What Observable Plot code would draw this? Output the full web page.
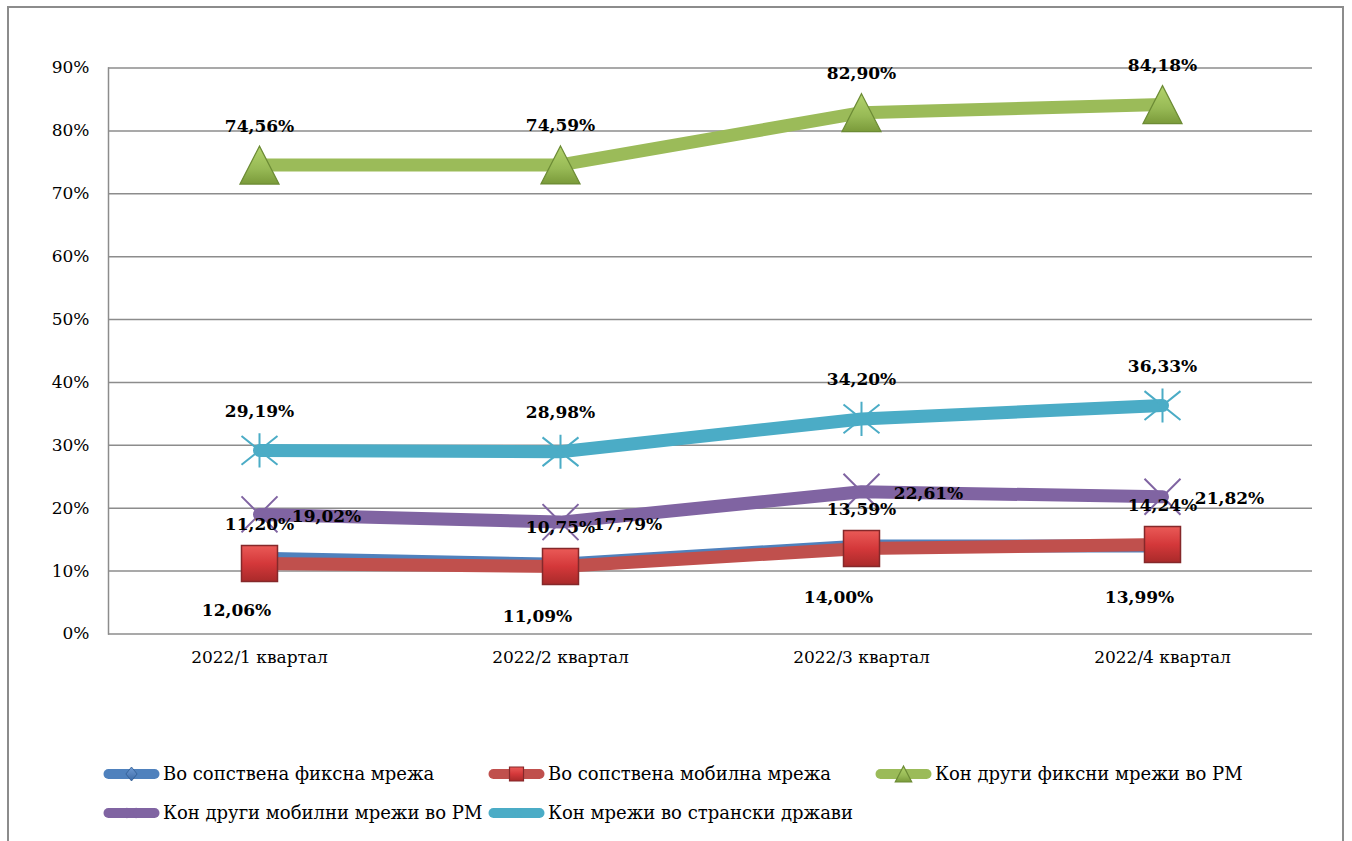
<!DOCTYPE html>
<html>
<head>
<meta charset="utf-8">
<script src="https://cdn.jsdelivr.net/npm/d3@7"></script>
<script src="https://cdn.jsdelivr.net/npm/@observablehq/plot@0.6"></script>
<style>
  html, body { margin: 0; padding: 0; background: #fff; }
  body { width: 1352px; height: 841px; position: relative; overflow: hidden; font-family: "DejaVu Serif", serif; }
  #border { position: absolute; left: 7px; top: 6px; width: 1337px; height: 860px; border: 2px solid #8c8c8c; box-sizing: border-box; }
  #chart { position: absolute; left: 0; top: 0; }
  #legend { position: absolute; left: 103px; top: 754px; display: grid; grid-template-columns: 385px 387px auto; font-size: 18px; color: #000; font-family: "DejaVu Serif", serif; }
  .item { display: flex; align-items: center; height: 39px; white-space: nowrap; }
  .item svg { margin-right: 3px; flex-shrink: 0; }
</style>
</head>
<body>
<svg width="0" height="0" style="position:absolute">
  <defs>
    <linearGradient id="gRed" x1="0" y1="0" x2="0" y2="1">
      <stop offset="0" stop-color="#ea5a57"/>
      <stop offset="0.5" stop-color="#d4383a"/>
      <stop offset="1" stop-color="#a92a2a"/>
    </linearGradient>
    <linearGradient id="gGreen" x1="0" y1="0" x2="0" y2="1">
      <stop offset="0" stop-color="#b3d46c"/>
      <stop offset="0.6" stop-color="#97b955"/>
      <stop offset="1" stop-color="#7a9a3a"/>
    </linearGradient>
    <linearGradient id="gBlue" x1="0" y1="0" x2="0" y2="1">
      <stop offset="0" stop-color="#6f9bd4"/>
      <stop offset="1" stop-color="#3b6aa6"/>
    </linearGradient>
  </defs>
</svg>
<div id="border"></div>
<div id="chart"></div>
<div id="legend"></div>
<script>
// ---- data ----
const quarters = ["2022/1 квартал", "2022/2 квартал", "2022/3 квартал", "2022/4 квартал"];
const seriesNames = [
  "Во сопствена фиксна мрежа",
  "Во сопствена мобилна мрежа",
  "Кон други фиксни мрежи во РМ",
  "Кон други мобилни мрежи во РМ",
  "Кон мрежи во странски држави"
];
const fixedOwn    = [12.06, 11.09, 14.00, 13.99];
const mobileOwn   = [11.20, 10.75, 13.59, 14.24];
const fixedOther  = [74.56, 74.59, 82.90, 84.18];
const mobileOther = [19.02, 17.79, 22.61, 21.82];
const foreign     = [29.19, 28.98, 34.20, 36.33];
const yTicks = [0, 10, 20, 30, 40, 50, 60, 70, 80, 90];

const seriesValues = [fixedOwn, mobileOwn, fixedOther, mobileOther, foreign];
const colors = ["#4F81BD", "#C0504D", "#9BBB59", "#8064A2", "#4BACC6"];

const rows = [];
seriesNames.forEach((s, i) => quarters.forEach((q, j) => rows.push({s, q, v: seriesValues[i][j], i})));

const fmt = v => v.toFixed(2).replace(".", ",") + "%";
const FONT = "DejaVu Serif";

// ---- custom symbols (size = PI r^2) ----
const R = size => Math.sqrt(size / Math.PI);
const symDiamond = {draw(c, size) { const r = R(size); c.moveTo(0, -r); c.lineTo(r * 0.8, 0); c.lineTo(0, r); c.lineTo(-r * 0.8, 0); c.closePath(); }};
const symSquare = {draw(c, size) { const r = R(size); c.moveTo(-r, -r); c.lineTo(r, -r); c.lineTo(r, r); c.lineTo(-r, r); c.closePath(); }};
const symTriangle = {draw(c, size) { const r = R(size); c.moveTo(0, -r); c.lineTo(r * 1.03, r); c.lineTo(-r * 1.03, r); c.closePath(); }};
const symX = {draw(c, size) { const r = R(size); c.moveTo(-r, -r); c.lineTo(r, r); c.moveTo(r, -r); c.lineTo(-r, r); }};
const symStar = {draw(c, size) { const r = R(size); c.moveTo(-r, -r * 0.8); c.lineTo(r, r * 0.8); c.moveTo(r, -r * 0.8); c.lineTo(-r, r * 0.8); c.moveTo(0, -r * 0.95); c.lineTo(0, r * 0.95); }};

const markerSpec = [
  {symbol: symDiamond, r: 7, fill: "url(#gBlue)", stroke: "#2f5a91", strokeWidth: 0.8},
  {symbol: symSquare, r: 18, fill: "url(#gRed)", stroke: "#85282a", strokeWidth: 1.5},
  {symbol: symTriangle, r: 19, fill: "url(#gGreen)", stroke: "#6c8b35", strokeWidth: 1.2},
  {symbol: symX, r: 18, fill: "none", stroke: "#8064A2", strokeWidth: 2},
  {symbol: symStar, r: 18, fill: "none", stroke: "#4BACC6", strokeWidth: 2}
];
const labelSpec = [
  {dx: -23, dy: 52},
  {dx: 0, dy: -39},
  {dx: 0, dy: -39},
  {dx: 67, dy: 2},
  {dx: 0, dy: -39}
];

const markerMarks = markerSpec.map((m, i) => Plot.dot(rows.filter(d => d.i === i), {
  x: "q", y: "v", symbol: m.symbol, r: m.r, fill: m.fill, stroke: m.stroke, strokeWidth: m.strokeWidth
}));
const labelMarks = labelSpec.map((l, i) => Plot.text(rows.filter(d => d.i === i), {
  x: "q", y: "v", text: d => fmt(d.v), dx: l.dx, dy: l.dy,
  fontFamily: FONT, fontWeight: "bold", fontSize: 17, fill: "#000"
}));

const chart = Plot.plot({
  width: 1352,
  height: 700,
  marginLeft: 108,
  marginRight: 40,
  marginTop: 67.5,
  marginBottom: 66.5,
  style: {fontFamily: FONT, fontSize: "17px", color: "#000", background: "transparent", overflow: "visible"},
  x: {type: "point", domain: quarters, padding: 0.5, label: null},
  y: {domain: [0, 90], label: null},
  color: {domain: seriesNames, range: colors},
  marks: [
    Plot.ruleY(yTicks, {stroke: "#8c8c8c", strokeWidth: 1.5}),
    Plot.frame({anchor: "left", stroke: "#8c8c8c", strokeWidth: 1.5}),
    Plot.axisY({ticks: yTicks, tickFormat: d => d + "%", tickSize: 0, tickPadding: 19, fontSize: 17, fontFamily: FONT}),
    Plot.axisX({tickSize: 0, tickPadding: 17, fontSize: 17, fontFamily: FONT}),
    Plot.line(rows, {x: "q", y: "v", z: "s", stroke: "s", strokeWidth: 13, strokeLinejoin: "round", strokeLinecap: "round"}),
    ...markerMarks,
    ...labelMarks
  ]
});
document.getElementById("chart").appendChild(chart);

// ---- legend ----
const legend = d3.select("#legend");
seriesNames.forEach((s, i) => {
  const item = legend.append("div").attr("class", "item");
  const svg = item.append("svg").attr("width", 57).attr("height", 22);
  svg.append("line").attr("x1", 5.5).attr("x2", 51.5).attr("y1", 11).attr("y2", 11)
    .attr("stroke", colors[i]).attr("stroke-width", 10).attr("stroke-linecap", "round");
  const m = markerSpec[i];
  const rr = [7, 7, 8, 5, 5][i];
  svg.append("path").attr("transform", "translate(28.5,11)")
    .attr("d", d3.symbol(m.symbol, Math.PI * rr * rr)())
    .attr("fill", m.fill).attr("stroke", m.stroke).attr("stroke-width", Math.min(m.strokeWidth, 1.2));
  item.append("span").text(s);
});
</script>
</body>
</html>
